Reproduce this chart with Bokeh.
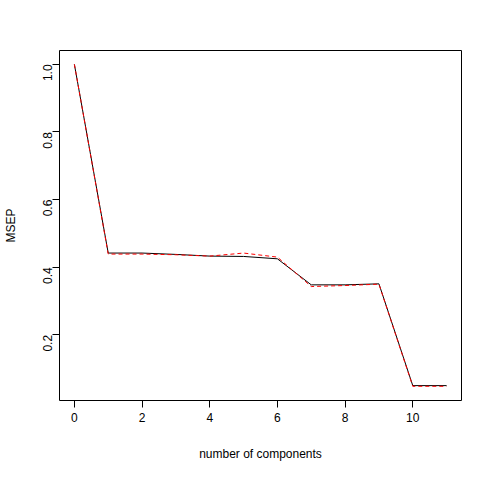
import math
from bokeh.plotting import figure
from bokeh.models import Label, CustomJSTickFormatter
from bokeh.embed import file_html
from bokeh.resources import INLINE

components = list(range(12))
cv_msep = [1.0, 0.442, 0.442, 0.438, 0.433, 0.432, 0.425, 0.348, 0.348, 0.351, 0.05, 0.05]
adjcv_msep = [1.0, 0.439, 0.439, 0.437, 0.433, 0.442, 0.430, 0.343, 0.346, 0.350, 0.048, 0.048]
x_ticks = [0, 2, 4, 6, 8, 10]
y_ticks = [0.2, 0.4, 0.6, 0.8, 1.0]

p = figure(frame_width=402, frame_height=350, x_range=(-0.44, 11.44), y_range=(0.006, 1.041),
           output_backend="svg", toolbar_location=None,
           min_border_left=52, min_border_top=50, min_border_right=2, min_border_bottom=56)

title = Label(x=201, y=372, x_units="screen", y_units="screen",
              text="Cross-validation Error Plot for Principal Components regression",
              text_align="center", text_font="Liberation Sans", text_font_size="11pt",
              text_font_style="bold", text_color="black")
p.add_layout(title)

p.line(components, cv_msep, line_color="black", line_width=1)
p.line(components, adjcv_msep, line_color="red", line_width=1, line_dash="4 3")

p.xgrid.visible = False
p.ygrid.visible = False
p.outline_line_color = "black"
p.xaxis.ticker = x_ticks
p.yaxis.ticker = y_ticks
p.yaxis.formatter = CustomJSTickFormatter(code="return tick.toFixed(1);")
p.yaxis.major_label_orientation = math.pi / 2
for ax in (p.xaxis[0], p.yaxis[0]):
    ax.axis_line_color = None
    ax.minor_tick_line_color = None
    ax.major_tick_out = 7
    ax.major_tick_in = 0
    ax.major_label_text_font = "Liberation Sans"
    ax.major_label_text_font_size = "9pt"
    ax.major_label_text_color = "black"
    ax.axis_label_text_font = "Liberation Sans"
    ax.axis_label_text_font_size = "9pt"
    ax.axis_label_text_font_style = "normal"
    ax.axis_label_text_color = "black"
p.xaxis.axis_label_standoff = 22
p.yaxis.axis_label_standoff = 18
p.xaxis.axis_label = "number of components"
p.yaxis.axis_label = "MSEP"

open("out.html", "w").write(file_html(p, INLINE))
